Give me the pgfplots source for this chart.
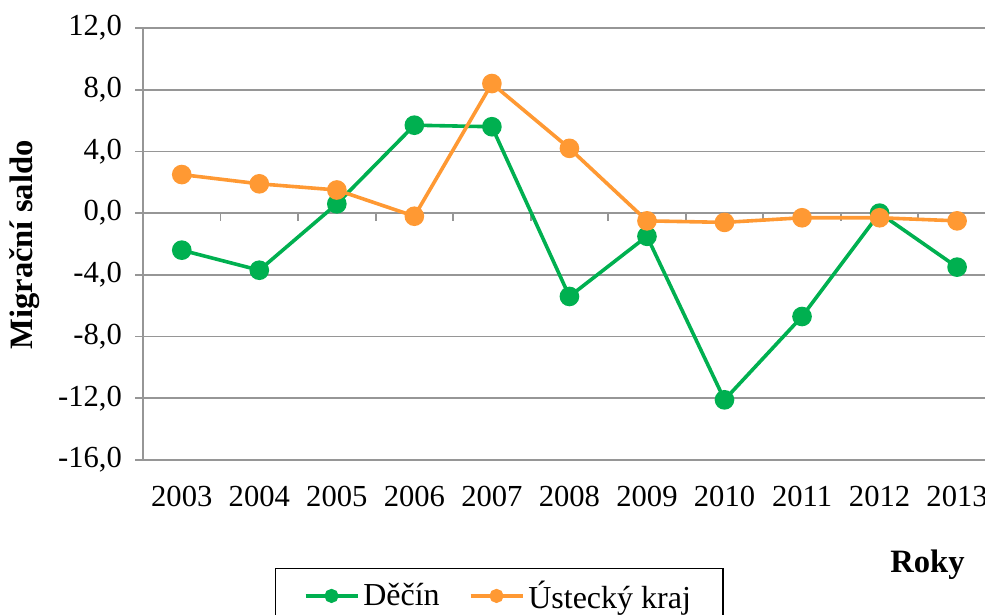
\documentclass[border=0pt]{standalone}
\usepackage{pgfplots}
\pgfplotsset{compat=1.18}
\usepackage{fontspec}
\setmainfont{Liberation Serif}
\definecolor{dgreen}{RGB}{0,176,80}
\definecolor{uorange}{RGB}{255,153,51}
\definecolor{gridgray}{RGB}{150,150,150}
\begin{document}
\begin{tikzpicture}
\path[use as bounding box] (0,0) rectangle (492.5pt,307.5pt);
\clip (0,0) rectangle (492.5pt,307.5pt);
\begin{axis}[
  at={(71.5pt,77.5pt)}, anchor=south west,
  scale only axis, width=421pt, height=216pt,
  xmin=-0.5, xmax=10.36, ymin=-16, ymax=12,
  clip=false,
  axis x line*=bottom, axis y line*=left,
  x axis line style={draw=none},
  y axis line style={draw=gridgray, line width=0.9pt},
  xtick={0,...,10},
  xticklabels={2003,2004,2005,2006,2007,2008,2009,2010,2011,2012,2013},
  x tick style={draw=none},
  ytick={-16,-12,-8,-4,0,4,8,12},
  y tick style={draw=gridgray, line width=0.9pt},
  tick align=outside, major tick length=4pt,
  ymajorgrids, grid style={draw=gridgray, line width=0.9pt},
  tick label style={font=\fontsize{15.3}{18}\selectfont},
  /pgf/number format/assume math mode=true,
  yticklabel={\pgfmathprintnumber[fixed,fixed zerofill,precision=1,use comma]{\tick}},
  xticklabel style={yshift=-5.5pt},
  yticklabel style={xshift=-3pt},
  legend columns=2,
  legend style={at={(0.1568,-0.25)}, anchor=north west, draw=black, line width=0.7pt,
    font=\fontsize{16}{19}\selectfont, inner xsep=14pt, inner ysep=4pt,
    /tikz/every even column/.append style={column sep=12.5pt}},
  legend image code/.code={\draw[mark repeat=2,mark phase=2,#1,mark size=2.6pt] plot coordinates {(0pt,0pt)(13pt,0pt)(26pt,0pt)};},
]
\draw[gridgray, line width=0.9pt] (axis cs:-0.5,0) -- (axis cs:10.36,0);
\pgfplotsinvokeforeach{0.5,1.5,2.5,3.5,4.5,5.5,6.5,7.5,8.5,9.5}{
  \draw[gridgray, line width=0.9pt] (axis cs:#1,0) -- ++(0pt,-4pt);
}
\addplot[color=dgreen, line width=1.8pt, mark=*, mark size=4pt, mark options={solid, fill=dgreen}]
  coordinates {(0,-2.4)(1,-3.7)(2,0.6)(3,5.7)(4,5.6)(5,-5.4)(6,-1.5)(7,-12.1)(8,-6.7)(9,0.0)(10,-3.5)};
\addlegendentry{Děčín}
\addplot[color=uorange, line width=1.8pt, mark=*, mark size=4pt, mark options={solid, fill=uorange}]
  coordinates {(0,2.5)(1,1.9)(2,1.5)(3,-0.2)(4,8.4)(5,4.2)(6,-0.5)(7,-0.6)(8,-0.3)(9,-0.3)(10,-0.5)};
\addlegendentry{Ústecký kraj}
\end{axis}
\node[rotate=90, font=\fontsize{16.3}{19}\selectfont\bfseries] at (12.5pt,185pt) {Migrační saldo};
\node[anchor=east, inner sep=0pt, font=\fontsize{16.3}{19}\selectfont\bfseries] at (482.5pt,25pt) {Roky};
\end{tikzpicture}
\end{document}
